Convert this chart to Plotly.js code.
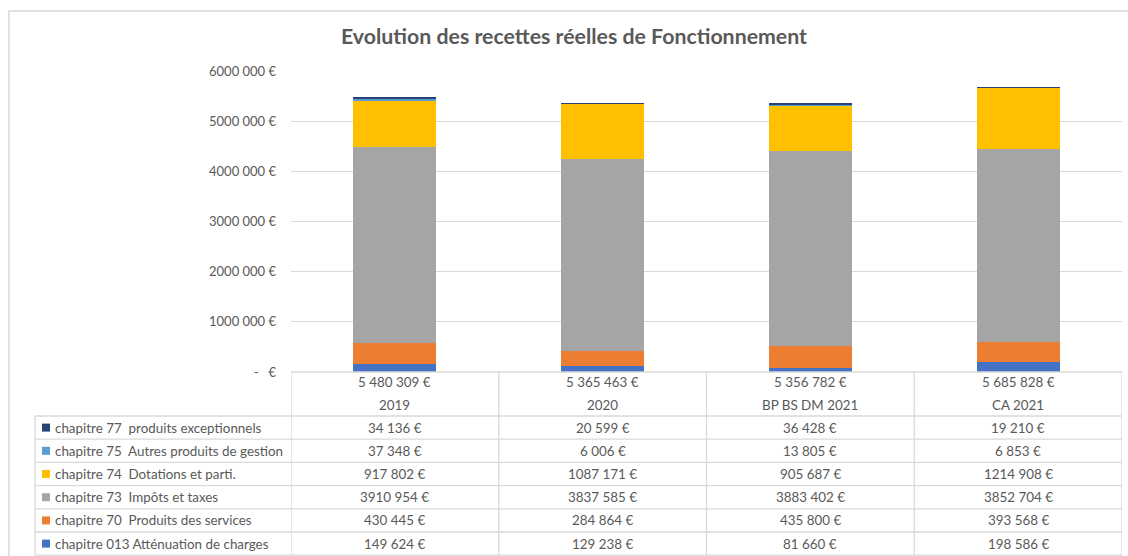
<!DOCTYPE html>
<html><head><meta charset="utf-8">
<script src="https://cdn.plot.ly/plotly-3.0.1.min.js"></script>
<style>html,body{margin:0;padding:0;background:#fff}#chart{width:1128px;height:556px}</style>
</head><body><div id="chart"></div>
<script>
// ---- data ----
const categories = ["2019", "2020", "BP BS DM 2021", "CA 2021"];
const seriesNames = [
  "chapitre 013 Atténuation de charges",
  "chapitre 70  Produits des services",
  "chapitre 73  Impôts et taxes",
  "chapitre 74  Dotations et parti.",
  "chapitre 75  Autres produits de gestion",
  "chapitre 77  produits exceptionnels"
];
const ch013 = [149624, 129238, 81660, 198586];
const ch70  = [430445, 284864, 435800, 393568];
const ch73  = [3910954, 3837585, 3883402, 3852704];
const ch74  = [917802, 1087171, 905687, 1214908];
const ch75  = [37348, 6006, 13805, 6853];
const ch77  = [34136, 20599, 36428, 19210];
const totals = [5480309, 5365463, 5356782, 5685828];
const yTickValues = [0, 1000000, 2000000, 3000000, 4000000, 5000000, 6000000];
const yTickLabels = ["-   €", "1000 000 €", "2000 000 €", "3000 000 €", "4000 000 €", "5000 000 €", "6000 000 €"];
const chartTitle = "Evolution des recettes réelles de Fonctionnement";

// ---- style ----
const colors = ["#4472C4", "#ED7D31", "#A5A5A5", "#FFC000", "#5B9BD5", "#264478"];
const seriesValues = [ch013, ch70, ch73, ch74, ch75, ch77];
const FONT = "Lato, 'Open Sans', sans-serif";
const TXT = "#595959";
const LINE = "#d9d9d9";
const W = 1128, H = 556;
const plotL = 291, plotR = 1122, plotT = 71, plotB = 372;
const tableLeft = 35;
const headerBottom = 416, rowH = 23.2;

const py = p => (plotB - p) / (plotB - plotT);   // pixel y -> paper y
const px = p => (p - plotL) / (plotR - plotL);   // pixel x -> paper x

function nb(s) { return s.replace(/ /g, "\u00a0"); }
function fmtCell(n) {
  const s = String(n);
  return (s.length > 3 ? s.slice(0, -3) + " " + s.slice(-3) : s) + " €";
}
function fmtTotal(n) {
  return String(n).replace(/\B(?=(\d{3})+(?!\d))/g, " ") + " €";
}

const traces = seriesValues.map((vals, i) => ({
  type: "bar",
  name: seriesNames[i],
  x: categories,
  y: vals,
  marker: { color: colors[i], line: { width: 0 } },
  hoverinfo: "skip"
}));

const shapes = [];
const annotations = [];
const lineStyle = { color: LINE, width: 1.3 };

// outer frame
shapes.push({ type: "rect", xref: "paper", yref: "paper", x0: px(9), x1: px(1140), y0: py(11), y1: py(570), line: { color: LINE, width: 1.5 }, layer: "below" });

// header top line
shapes.push({ type: "line", xref: "paper", yref: "paper", x0: 0, x1: 1, y0: 0, y1: 0, line: lineStyle });
// row lines
const nRows = seriesNames.length;
for (let r = 0; r <= nRows; r++) {
  const y = headerBottom + r * rowH;
  shapes.push({ type: "line", xref: "paper", yref: "paper", x0: px(tableLeft), x1: 1, y0: py(y), y1: py(y), line: lineStyle });
}
const tableBottom = headerBottom + nRows * rowH;
// vertical lines
for (let c = 0; c <= categories.length; c++) {
  shapes.push({ type: "line", xref: "x", yref: "paper", x0: c - 0.5, x1: c - 0.5, y0: 0, y1: py(tableBottom), line: lineStyle });
}
shapes.push({ type: "line", xref: "paper", yref: "paper", x0: px(tableLeft), x1: px(tableLeft), y0: py(headerBottom), y1: py(tableBottom), line: lineStyle });

const tfont = { family: FONT, size: 13.4, color: TXT };
// header
categories.forEach((cat, j) => {
  annotations.push({ xref: "x", yref: "paper", x: j, y: py(382), text: nb(fmtTotal(totals[j])), showarrow: false, font: tfont, xanchor: "center", yanchor: "middle" });
  annotations.push({ xref: "x", yref: "paper", x: j, y: py(405), text: nb(cat), showarrow: false, font: tfont, xanchor: "center", yanchor: "middle" });
});
// rows (top row = last series)
for (let r = 0; r < nRows; r++) {
  const si = nRows - 1 - r;
  const yc = headerBottom + r * rowH + rowH / 2;
  shapes.push({ type: "rect", xref: "paper", yref: "paper", x0: px(42), x1: px(50), y0: py(yc - 4), y1: py(yc + 4), fillcolor: colors[si], line: { width: 0 } });
  annotations.push({ xref: "paper", yref: "paper", x: px(53), y: py(yc), text: nb(seriesNames[si]), showarrow: false, font: tfont, xanchor: "left", yanchor: "middle" });
  categories.forEach((_, j) => {
    annotations.push({ xref: "x", yref: "paper", x: j, y: py(yc), text: nb(fmtCell(seriesValues[si][j])), showarrow: false, font: tfont, xanchor: "center", yanchor: "middle" });
  });
}

const layout = {
  width: W, height: H,
  margin: { l: plotL, r: W - plotR, t: plotT, b: H - plotB, pad: 0 },
  paper_bgcolor: "#fff", plot_bgcolor: "#fff",
  barmode: "stack",
  bargap: 0.6,
  showlegend: false,
  title: { text: "<b>" + chartTitle + "</b>", xref: "container", yref: "container", x: 574 / W, y: 1 - 37 / H, xanchor: "center", yanchor: "middle", font: { family: FONT, size: 21.3, color: TXT } },
  xaxis: { type: "category", showticklabels: false, showgrid: false, zeroline: false, showline: false, ticks: "", range: [-0.5, categories.length - 0.5], fixedrange: true },
  yaxis: {
    range: [0, 6000000], tickvals: yTickValues, ticktext: yTickLabels.map(nb),
    showgrid: true, gridcolor: LINE, gridwidth: 1.3, zeroline: false, showline: false, ticks: "",
    ticklabelstandoff: 14,
    tickfont: { family: FONT, size: 13, color: TXT }, fixedrange: true
  },
  shapes: shapes,
  annotations: annotations
};

Plotly.newPlot("chart", traces, layout, { displayModeBar: false, staticPlot: true });
</script>
</body></html>
